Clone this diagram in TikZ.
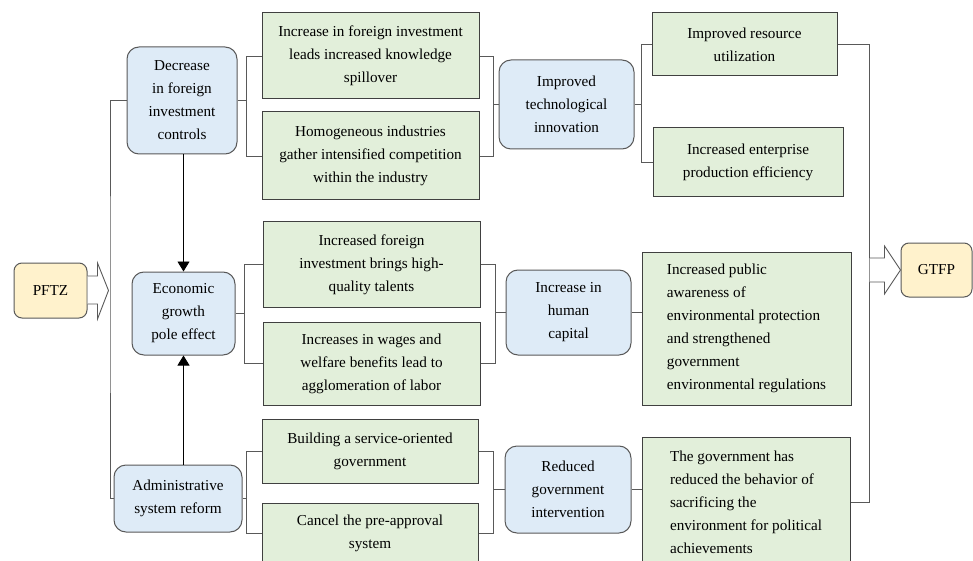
\documentclass[tikz,border=0pt]{standalone}
\usepackage{fontspec}
\setmainfont{Liberation Serif}
\usepackage{tikz}
\usetikzlibrary{arrows.meta,positioning,calc}
\definecolor{cMech}{HTML}{DEEBF7}
\definecolor{cEff}{HTML}{E2EFDA}
\definecolor{cEnd}{HTML}{FFF2CC}
\definecolor{cLine}{HTML}{595959}
\definecolor{cEdge}{HTML}{404040}
\tikzset{
  basebox/.style={
    draw, line width=1pt, inner sep=4pt,
    font=\fontsize{15.2}{23}\selectfont, text=black,
  },
  mechbox/.style={
    basebox, draw=cLine, fill=cMech, rounded corners=12pt, align=center,
  },
  effbox/.style={
    basebox, draw=cEdge, fill=cEff, align=center,
  },
  endbox/.style={
    basebox, draw=cLine, fill=cEnd, rounded corners=8pt, align=center,
  },
  conn/.style={
    draw=cLine, line width=0.9pt,
  },
  arr/.style={
    -{Triangle[length=10pt,width=12pt]}, draw=black, fill=black, line width=0.9pt,
  },
  blockarr/.style={
    draw=cLine, fill=white, line width=0.9pt, line join=miter,
  },
}

\begin{document}
\begin{tikzpicture}[x=1pt,y=-1pt]
\clip (0,0) rectangle (973,561);
\fill[white] (0,0) rectangle (973,561);

% ═══════════════════════════════════════════════════════════════
%  START / END
% ═══════════════════════════════════════════════════════════════
\node[endbox, minimum width=73pt, minimum height=55pt] (pftz) at (50.5,290.5) {PFTZ};
\node[endbox, minimum width=71pt, minimum height=54pt] (gtfp) at (936.5,270) {GTFP};

% ═══════════════════════════════════════════════════════════════
%  POLICY CHANNELS (left column)
% ═══════════════════════════════════════════════════════════════
\node[mechbox, minimum width=110pt, minimum height=107pt] (dec) at (182,100.5)
  {Decrease\\in foreign\\investment\\controls};
\node[mechbox, minimum width=103pt, minimum height=83pt] (eco) at (183.5,313.5)
  {Economic\\growth\\pole effect};
\node[mechbox, minimum width=128pt, minimum height=67pt] (adm) at (178,498.5)
  {Administrative\\system reform};

% ── effects of each channel ──
\node[effbox, minimum width=217pt, minimum height=86pt] (g1) at (370.5,56)
  {Increase in foreign investment\\leads increased knowledge\\spillover};
\node[effbox, minimum width=217pt, minimum height=88pt] (g2) at (370.5,156)
  {Homogeneous industries\\gather intensified competition\\within the industry};
\node[effbox, minimum width=217pt, minimum height=85pt] (g3) at (371.5,264.5)
  {Increased foreign\\investment brings high-\\quality talents};
\node[effbox, minimum width=217pt, minimum height=83pt] (g4) at (371.5,363.5)
  {Increases in wages and\\welfare benefits lead to\\agglomeration of labor};
\node[effbox, minimum width=216pt, minimum height=64pt] (g5) at (370,451)
  {Building a service-oriented\\government};
\node[effbox, minimum width=216pt, minimum height=60pt] (g6) at (370,533)
  {Cancel the pre-approval\\system};

% ═══════════════════════════════════════════════════════════════
%  MECHANISMS (middle column)
% ═══════════════════════════════════════════════════════════════
\node[mechbox, minimum width=135pt, minimum height=89pt] (tech) at (566.5,104.5)
  {Improved\\technological\\innovation};
\node[mechbox, minimum width=125pt, minimum height=85pt] (hum) at (568.5,312.5)
  {Increase in\\human\\capital};
\node[mechbox, minimum width=126pt, minimum height=87pt] (red) at (568,489.5)
  {Reduced\\government\\intervention};

% ── outcomes ──
\node[effbox, minimum width=185pt, minimum height=63pt] (g7) at (744.5,44.5)
  {Improved resource\\utilization};
\node[effbox, minimum width=190pt, minimum height=69pt] (g8) at (748,162.5)
  {Increased enterprise\\production efficiency};
\node[effbox, align=left, minimum width=209pt, minimum height=153pt] (g9) at (746.5,328.5)
  {Increased public\\awareness of\\environmental protection\\and strengthened\\government\\environmental regulations};
\node[effbox, align=left, minimum width=208pt, minimum height=130pt] (g10) at (746,502)
  {The government has\\reduced the behavior of\\sacrificing the\\environment for political\\achievements};

% ═══════════════════════════════════════════════════════════════
%  CONNECTORS
% ═══════════════════════════════════════════════════════════════
% ── left spine ──
\coordinate (lsp) at (110,290);
\draw[conn] (dec.west) -| (lsp) |- (adm.west);
\filldraw[blockarr] ($(pftz.east)+(0,-14.5)$) -- ++(10,0) -- ++(0,-13) -- ($(pftz.east)+(21,0)$)
  -- ($(pftz.east)+(10,28.5)$) -- ++(0,-15) -- ($(pftz.east)+(0,13.5)$);

% ── between channels ──
\draw[arr] (dec.south -| eco.north) -- (eco.north);
\draw[arr] (eco.south |- adm.north) -- (eco.south);

% ── channel brackets ──
\draw[conn] (dec.east) -- ++(9,0) coordinate (d1);
\draw[conn] (g1.west) -| (d1) |- (g2.west);
\draw[conn] (eco.east) -- ++(9,0) coordinate (e1);
\draw[conn] (g3.west) -| (e1) |- (g4.west);
\draw[conn] (adm.east) -- ++(4,0) coordinate (a1);
\draw[conn] (g5.west) -| (a1) |- (g6.west);

% ── mechanism brackets ──
\draw[conn] (tech.west) -- ++(-5,0) coordinate (t1);
\draw[conn] (g1.east) -| (t1) |- (g2.east);
\draw[conn] (hum.west) -- ++(-10,0) coordinate (h1);
\draw[conn] (g3.east) -| (h1) |- (g4.east);
\draw[conn] (red.west) -- ++(-11,0) coordinate (r1);
\draw[conn] (g5.east) -| (r1) |- (g6.east);

% ── outcome links ──
\draw[conn] (tech.east) -- ++(7,0) coordinate (t2);
\draw[conn] (g7.west) -| (t2) |- (g8.west);
\draw[conn] (hum.east) -- (hum.east -| g9.west);
\draw[conn] (red.east) -- (red.east -| g10.west);

% ── right spine ──
\coordinate (rsp) at (869,270);
\draw[conn] (g7.east) -| (rsp) |- (g10.east);
\filldraw[blockarr] ($(gtfp.west)+(-31,-12)$) -- ++(15,0) -- ++(0,-12) -- (gtfp.west)
  -- ($(gtfp.west)+(-16,24)$) -- ++(0,-12) -- ($(gtfp.west)+(-31,12)$);

\end{tikzpicture}
\end{document}
